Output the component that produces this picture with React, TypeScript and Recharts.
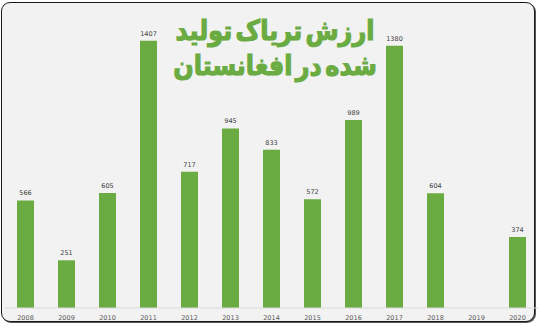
import React from 'react';
import { BarChart, Bar, XAxis, YAxis, LabelList } from 'recharts';

const years = ['2008', '2009', '2010', '2011', '2012', '2013', '2014', '2015', '2016', '2017', '2018', '2019', '2020'];
const values: (number | null)[] = [566, 251, 605, 1407, 717, 945, 833, 572, 989, 1380, 604, null, 374];
const titleLines = ['ارزش تریاک تولید', 'شده در افغانستان'];

const data = years.map((y, i) => ({ year: y, value: values[i] }));

export default function App() {
  return (
    <div style={{ position: 'absolute', left: 0, top: 0, width: 539, height: 325, background: '#ffffff' }}>
      <div
        style={{
          position: 'absolute',
          left: 1,
          top: 2,
          width: 532,
          height: 318,
          border: '1.5px solid #1a1a1a',
          borderRadius: 9,
          background: '#f2f2f2',
          boxShadow: '1px 1px 0 #555',
        }}
      />
      <div style={{ position: 'absolute', left: 0, top: 0 }}>
        <BarChart width={539} height={325} data={data} margin={{ top: 4, right: 1, left: 5, bottom: 3 }} barCategoryGap={0}>
          <XAxis
            dataKey="year"
            height={14}
            tickLine={false}
            axisLine={{ stroke: '#d9d9d9', strokeWidth: 1 }}
            tick={{ fontSize: 6.5, fill: '#595959', fontFamily: 'DejaVu Sans', dy: -1 }}
            interval={0}
          />
          <YAxis hide domain={[0, 1600]} />
          <Bar dataKey="value" fill="#6aab42" barSize={17} isAnimationActive={false}>
            <LabelList dataKey="value" position="top" offset={5} style={{ fontSize: 6.5, fill: '#404040', fontFamily: 'DejaVu Sans' }} />
          </Bar>
        </BarChart>
      </div>
      <div
        style={{
          position: 'absolute',
          left: 165,
          top: 14,
          width: 220,
          direction: 'rtl',
          textAlign: 'center',
          fontFamily: 'DejaVu Sans',
          fontWeight: 'bold',
          fontSize: 24,
          lineHeight: '30px',
          whiteSpace: 'nowrap',
          wordSpacing: -5,
          color: '#6aab42',
          WebkitTextStroke: '1px #6aab42',
          transform: 'scaleY(1.15)',
          transformOrigin: 'top center',
        }}
      >
        <div>{titleLines[0]}</div>
        <div>{titleLines[1]}</div>
      </div>
    </div>
  );
}
